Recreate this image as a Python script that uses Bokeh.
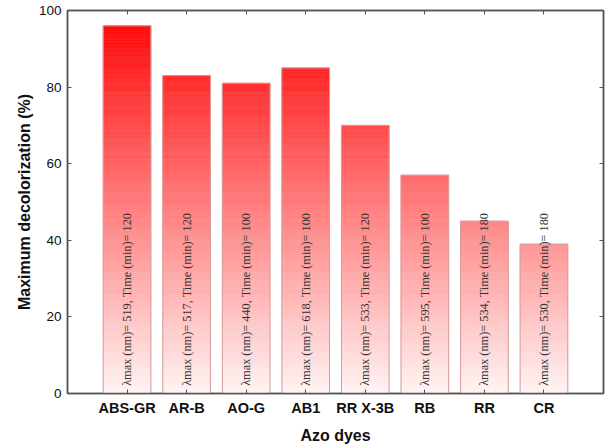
import math
from bokeh.plotting import figure
from bokeh.models import Range1d, FixedTicker, LinearAxis, ColumnDataSource
from bokeh.core.properties import value
from bokeh.embed import file_html
from bokeh.resources import INLINE

# ---- data ----
dyes = ["ABS-GR", "AR-B", "AO-G", "AB1", "RR X-3B", "RB", "RR", "CR"]
decolorization = [96, 83, 81, 85, 70, 57, 45, 39]
lambda_max = [519, 517, 440, 618, 533, 595, 534, 530]
time_min = [120, 120, 100, 100, 120, 100, 180, 180]
y_ticks = [0, 20, 40, 60, 80, 100]

x_pos = [i + 1 for i in range(len(dyes))]

# vertical gradient strips built from the data values
step = 0.5
sl, sr, sb, st, sc = [], [], [], [], []
for x, v in zip(x_pos, decolorization):
    n = int(math.ceil(v / step))
    for k in range(n):
        b = k * step
        t = min((k + 1) * step, v)
        mid = (b + t) / 2
        g = int(round(244 - 2.44 * mid))
        g = max(0, min(255, g))
        sl.append(x - 0.4); sr.append(x + 0.4); sb.append(b); st.append(t)
        sc.append("#ff%02x%02x" % (g, g))
strips = ColumnDataSource(dict(left=sl, right=sr, bottom=sb, top=st, color=sc))

bars = ColumnDataSource(dict(x=x_pos, top=decolorization))
labels = ColumnDataSource(dict(
    x=x_pos,
    y=[2] * len(dyes),
    text=["\u03bbmax (nm)= %d, Time (min)= %d" % (l, t) for l, t in zip(lambda_max, time_min)],
))

p = figure(width=610, height=448, x_range=Range1d(0, 9), y_range=Range1d(0, 100),
           output_backend="svg", toolbar_location=None,
           min_border_left=67, min_border_right=7, min_border_top=10, min_border_bottom=55)

p.quad(left="left", right="right", bottom="bottom", top="top", source=strips,
       fill_color="color", line_color="color", line_width=0.6)
p.vbar(x="x", top="top", bottom=0, width=0.8, source=bars,
       fill_alpha=0, line_color="#d99a9a", line_width=1)
p.text(x="x", y="y", text="text", source=labels, angle=math.pi / 2,
       text_font=value("Liberation Serif"), text_font_size="12.3px",
       text_color="#333333", text_align="left", text_baseline="middle")

p.xgrid.visible = False
p.ygrid.visible = False
p.outline_line_color = "#555555"
p.outline_line_width = 1.5
p.background_fill_color = "white"
p.border_fill_color = "white"

# bottom axis
xa = p.xaxis[0]
xa.ticker = FixedTicker(ticks=x_pos)
xa.major_label_overrides = {x: d for x, d in zip(x_pos, dyes)}
xa.major_label_text_font = "Liberation Sans"
xa.major_label_text_font_style = "bold"
xa.major_label_text_font_size = "14.5px"
xa.major_label_text_color = "#111111"
xa.major_label_standoff = 6
xa.axis_label = "Azo dyes"
xa.axis_label_text_font = "Liberation Sans"
xa.axis_label_text_font_style = "bold"
xa.axis_label_text_font_size = "16px"
xa.axis_label_text_color = "#111111"
xa.axis_label_standoff = 8
xa.major_tick_in = 4
xa.major_tick_out = 0
xa.minor_tick_line_color = None
xa.axis_line_color = "#555555"
xa.axis_line_width = 1.5
xa.major_tick_line_color = "#555555"

# left axis
ya = p.yaxis[0]
ya.ticker = FixedTicker(ticks=y_ticks)
ya.major_label_text_font = "Liberation Sans"
ya.major_label_text_font_size = "13.5px"
ya.major_label_text_color = "#111111"
ya.major_label_standoff = 6
ya.axis_label = "Maximum decolorization (%)"
ya.axis_label_text_font = "Liberation Sans"
ya.axis_label_text_font_style = "bold"
ya.axis_label_text_font_size = "16px"
ya.axis_label_text_color = "#111111"
ya.axis_label_standoff = 3
ya.major_tick_in = 4
ya.major_tick_out = 0
ya.minor_tick_line_color = None
ya.axis_line_color = "#555555"
ya.axis_line_width = 1.5
ya.major_tick_line_color = "#555555"

# right and top axes: inward ticks only, labels not painted
ra = LinearAxis(ticker=FixedTicker(ticks=y_ticks),
                major_label_text_font_size="1px", major_label_text_color=None,
                major_label_standoff=0,
                major_tick_in=4, major_tick_out=0, minor_tick_line_color=None,
                axis_line_color="#555555", axis_line_width=1.5,
                major_tick_line_color="#555555")
p.add_layout(ra, "right")
ta = LinearAxis(ticker=FixedTicker(ticks=x_pos),
                major_label_text_font_size="1px", major_label_text_color=None,
                major_label_standoff=0,
                major_tick_in=4, major_tick_out=0, minor_tick_line_color=None,
                axis_line_color="#555555", axis_line_width=1.5,
                major_tick_line_color="#555555")
p.add_layout(ta, "above")

open("out.html", "w").write(file_html(p, INLINE))
